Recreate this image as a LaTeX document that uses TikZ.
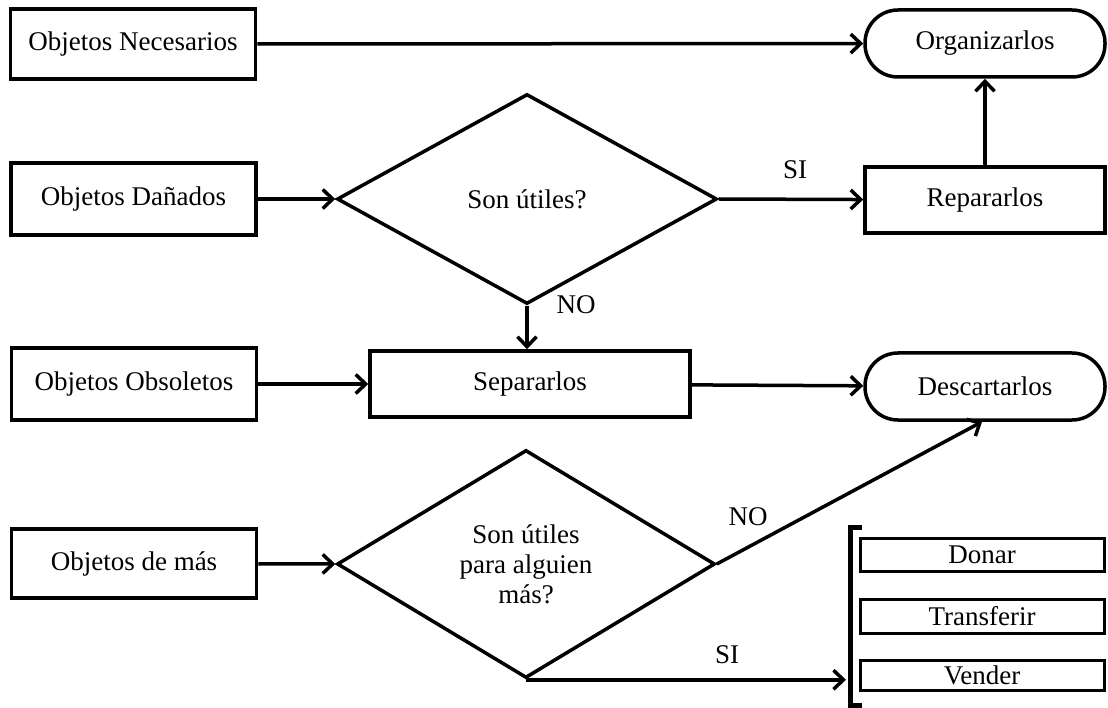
\documentclass[tikz,border=0pt]{standalone}
\usepackage{fontspec}
\setmainfont{Liberation Serif}
\usetikzlibrary{shapes.geometric,arrows.meta}

\tikzset{
  >={Straight Barb[length=10pt,width=19pt]},
  caja/.style={draw,line width=3.5pt,minimum width=245pt,minimum height=70pt,inner sep=0pt},
  rombo/.style={draw,diamond,line width=3.5pt,inner sep=0pt,align=center},
  final/.style={draw,line width=3.5pt,rounded corners=33pt,minimum width=240pt,minimum height=67pt,inner sep=0pt},
  opcion/.style={draw,line width=3pt,minimum width=244pt,inner sep=0pt},
  flecha/.style={->,line width=3.5pt},
  etiq/.style={inner sep=0pt}
}

\begin{document}
\begin{tikzpicture}[x=1pt,y=-1pt,font=\fontsize{27}{30}\selectfont]
    \useasboundingbox (0,0) rectangle (1108,708);

    % Objetos
    \node[caja] (nec) at (133,44) {Objetos Necesarios};
    \node[caja,minimum height=72pt] (dan) at (133.5,199) {Objetos Dañados};
    \node[caja,minimum height=72pt] (obs) at (134,384) {Objetos Obsoletos};
    \node[caja,minimum height=69pt] (mas) at (134,563.5) {Objetos de más};

    % Decisiones
    \node[rombo,minimum width=380pt,minimum height=210pt] (util) at (527,199) {Son útiles?};
    \node[rombo,minimum width=378pt,minimum height=228pt] (otro) at (526,564) {Son útiles\\para alguien\\más?};

    % Acciones
    \node[caja,minimum width=320pt,minimum height=66pt] (sep) at (530,384) {Separarlos};
    \node[caja,minimum width=240pt,minimum height=66pt] (rep) at (985,200) {Repararlos};
    \node[final] (org) at (985,43.5) {Organizarlos};
    \node[final] (des) at (985,386.5) {Descartarlos};

    % Opciones
    \node[opcion,minimum height=33pt] (don) at (982,554.5) {Donar};
    \node[opcion,minimum height=34pt] (tra) at (982,616) {Transferir};
    \node[opcion,minimum height=30pt] (ven) at (982,675) {Vender};
    \draw[line width=5pt] (862,527) -- (850,527) -- (850,705) -- (862,705);
    \coordinate (llave) at (846,680);

    % Flechas
    \draw[flecha] (nec) -- (org);
    \draw[flecha] (dan) -- (util.west);
    \draw[flecha] (util.east) -- (rep);
    \draw[flecha] (rep.north) -- (org.south);
    \draw[flecha] (util.south) -- (util.south |- sep.north);
    \draw[flecha] (obs) -- (sep);
    \draw[flecha] (sep) -- (des);
    \draw[flecha] (mas) -- (otro.west);
    \draw[flecha] (otro.east) -- ([xshift=-3pt]des.south);
    \draw[flecha] (otro.south) -- (otro.south -| llave);

    % Etiquetas
    \node[etiq] (si1) at (795,170) {SI};
    \node[etiq] (no1) at (576,305) {NO};
    \node[etiq] (no2) at (748,517) {NO};
    \node[etiq] (si2) at (727,655) {SI};
\end{tikzpicture}
\end{document}
